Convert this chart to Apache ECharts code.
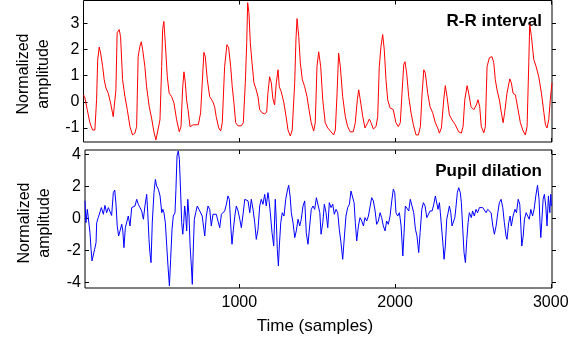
<!DOCTYPE html>
<html><head><meta charset="utf-8">
<script src="https://cdn.jsdelivr.net/npm/echarts@6/dist/echarts.min.js"></script>
<style>html,body{margin:0;padding:0;background:#fff}#c{width:581px;height:343px}</style>
</head><body><div id="c"></div>
<script>
const xTicks = [1000, 2000, 3000];
const rrTicks = [-1, 0, 1, 2, 3];
const pupilTicks = [-4, -2, 0, 2, 4];

const rrSamples = [0,9,24,41,58,73,84,91,101,110,123,133,144,159,174,191,195,208,216,229,238,251,266,281,298,315,330,341,351,362,371,380,394,405,422,437,452,465,476,491,502,508,516,525,538,550,566,581,598,615,626,637,645,653,662,671,684,705,737,752,760,773,782,795,810,831,842,852,868,881,891,906,921,932,945,955,966,977,992,1013,1026,1039,1048,1054,1062,1071,1082,1094,1109,1120,1131,1146,1163,1176,1184,1195,1206,1215,1227,1238,1249,1257,1270,1287,1302,1313,1328,1340,1356,1364,1371,1382,1392,1405,1420,1435,1448,1462,1478,1488,1499,1510,1523,1536,1552,1568,1589,1606,1617,1628,1638,1649,1664,1681,1696,1713,1732,1745,1758,1767,1777,1793,1807,1825,1835,1846,1861,1878,1889,1899,1910,1921,1931,1942,1953,1968,1989,2006,2021,2034,2045,2056,2064,2075,2088,2103,2118,2135,2150,2163,2174,2185,2195,2210,2225,2242,2259,2274,2285,2298,2313,2323,2334,2349,2366,2387,2409,2426,2437,2448,2463,2473,2488,2506,2522,2533,2544,2554,2570,2580,2591,2606,2623,2634,2644,2655,2670,2683,2694,2704,2719,2737,2747,2758,2773,2790,2805,2820,2837,2848,2859,2865,2876,2891,2906,2923,2940,2956,2966,2976,2987,2997,3008];
const rrValues = [0.27,0.15,-0.3,-0.8,-1.08,-1.08,0.08,1.6,2.1,1.87,1.35,0.85,0.53,0.33,-0.05,-0.57,-0.57,0.46,2.65,2.77,2.5,0.85,0.2,-0.3,-0.95,-1.27,-1.2,-0.95,1.74,2.13,2.3,2.0,1.35,0.58,-0.19,-0.62,-1.15,-1.46,-1.46,-0.69,1.35,2.77,3.08,2.27,0.96,0.33,0.2,-0.05,-0.69,-1.15,-0.95,0.58,1.15,0.77,0.08,-0.3,-0.95,-0.88,-0.88,-0.42,0.46,1.9,1.73,0.85,0.2,0,-0.19,-0.57,-1.0,-1.12,-0.8,1.35,2.19,2.07,1.35,0.58,-0.05,-0.8,-0.92,-0.92,-0.8,0.73,2.27,3.8,3.42,2.27,1.5,0.73,0.46,0.2,-0.3,-0.42,-0.46,-0.4,0.33,0.96,0.73,0.15,-0.12,0.73,1.23,0.58,0.38,-0.05,-0.62,-1.08,-1.31,-1.08,0.73,2.38,3.19,2.5,1.5,0.85,0.58,0.2,-0.3,-0.8,-1.12,-0.8,1.35,1.92,1.35,0.08,-0.8,-1.0,-1.15,-1.27,-1.08,0.33,1.87,1.35,0.2,-0.57,-0.95,-1.15,-1.15,-0.8,0.08,0.46,0.08,-0.57,-1.0,-0.8,-0.66,-0.8,-1.04,-0.95,-0.57,1.35,2.13,2.58,2.0,0.85,0.08,-0.23,-0.3,-0.8,-0.95,-0.8,0.33,1.42,1.54,1.1,0.2,-0.42,-0.88,-1.27,-1.27,-0.95,0.33,1.23,1.1,0.33,-0.19,-0.42,-0.8,-1.0,-1.2,-1.0,0.08,0.62,0.2,-0.5,-0.69,-0.88,-1.15,-1.2,-0.95,0.08,0.62,0.33,-0.19,-0.3,-0.12,0.08,-0.19,-0.95,-1.19,-0.95,1.35,1.69,1.73,1.5,0.85,0.46,0.08,-0.42,-0.8,-0.42,0.33,0.88,0.73,0.33,0.27,-0.3,-0.8,-1.08,-1.27,-0.95,1.5,2.96,2.5,1.62,1.35,0.96,0.33,-0.42,-0.88,-1.0,-0.69,0.08,0.73];

const pupilSamples = [9,15,24,35,41,48,54,62,71,80,84,94,105,114,120,127,137,148,159,170,180,191,200,208,216,225,234,245,252,259,268,277,287,298,309,319,330,341,351,362,373,384,394,405,412,420,426,433,441,452,461,469,480,491,502,509,516,525,534,542,551,559,568,576,587,593,600,608,615,624,630,637,643,649,656,662,669,677,684,692,698,705,711,720,730,741,752,762,767,778,788,799,810,820,831,841,852,863,874,885,895,906,917,927,936,945,953,962,971,981,992,1003,1013,1024,1035,1045,1056,1067,1077,1088,1099,1109,1120,1131,1141,1152,1163,1173,1184,1190,1199,1210,1221,1231,1238,1244,1251,1257,1266,1276,1287,1298,1308,1317,1326,1334,1345,1356,1366,1377,1388,1398,1409,1420,1430,1441,1452,1462,1473,1484,1495,1506,1517,1525,1536,1546,1557,1568,1578,1589,1600,1610,1621,1632,1642,1653,1664,1675,1685,1696,1707,1717,1728,1737,1745,1754,1765,1775,1786,1797,1807,1818,1829,1839,1850,1861,1872,1882,1893,1904,1914,1925,1936,1946,1957,1968,1979,1989,1998,2006,2017,2028,2039,2050,2058,2066,2077,2088,2098,2109,2120,2131,2141,2152,2161,2172,2182,2193,2204,2214,2225,2238,2249,2259,2268,2276,2285,2291,2298,2307,2315,2323,2332,2341,2349,2358,2366,2375,2384,2392,2400,2409,2419,2426,2435,2443,2452,2461,2469,2477,2490,2498,2509,2520,2530,2542,2552,2563,2574,2585,2595,2606,2617,2628,2638,2649,2660,2670,2681,2692,2702,2713,2719,2730,2739,2747,2758,2770,2780,2791,2801,2808,2814,2823,2831,2842,2852,2862,2872,2883,2893,2904,2915,2925,2931,2936,2942,2951,2959,2968,2976,2985,2994,3000,3004];
const pupilValues = [1.09,-0.28,0.56,0.46,-0.9,-1.94,-2.67,-2.57,-1.94,-1.52,-0.28,0.04,-0.06,0.67,0.56,0.25,0.81,0.35,0.67,0.77,0.18,1.61,1.77,0.89,-0.48,-1.11,-0.79,-0.38,-0.79,-1.84,-0.59,-0.69,0.14,-0.48,0.67,0.56,0.77,1.19,0.88,0.67,0.46,-0.06,0.77,1.5,0.35,-1.32,-2.15,-2.78,-0.28,1.61,2.44,2.03,1.82,1.4,0.35,0.56,0.35,-0.28,-1.74,-2.99,-4.24,-2.57,-0.69,0.14,0.35,1.82,3.91,4.22,3.7,1.4,-0.28,-1.0,-0.28,0.77,0.14,-0.79,1.19,0.14,-1.74,-2.99,-4.14,-1.74,-0.06,0.35,0.77,0.56,0.5,0.14,-0.28,-1.11,0.14,0.77,0.56,-0.48,0.25,0.14,0.25,-0.17,-0.59,0.25,0.35,0.46,0.88,1.4,1.19,-0.48,-1.63,-0.69,0.14,0.77,0.46,-0.06,-0.59,0.25,1.19,1.19,1.09,0.35,1.19,0.56,-0.28,-1.32,-0.69,0.77,1.19,0.88,1.5,0.77,1.61,1.19,0.35,-0.9,-1.74,1.19,-0.28,-1.94,-2.99,-1.74,-0.28,0.35,0.14,1.19,1.71,2.07,1.4,0.35,-0.28,-1.21,-0.79,-0.06,-0.48,-0.06,0.77,1.09,-0.9,-1.63,-0.48,0.56,0.77,0.56,1.29,1.4,0.35,-1.0,-0.28,0.88,0.35,-0.59,0.98,0.67,0.88,0.25,0.56,0.35,-0.69,-1.53,-2.57,-1.11,0.14,0.67,0.88,1.71,1.82,0.98,-0.28,-1.42,-0.48,0.04,-0.17,-0.48,0.04,-0.17,0.14,0.14,1.29,1.09,0.46,-0.38,-0.17,0.35,0.04,-0.48,-0.79,-0.17,-0.38,0.14,1.09,1.82,1.61,0.35,0.14,0.35,-0.48,-2.36,-0.9,0.77,0.88,0.46,1.19,0.77,0.35,-0.69,-1.11,-2.15,-0.9,0.56,0.98,0.77,0.04,0.14,0.46,0.46,0.88,1.4,1.29,0.56,0.98,0.35,-0.48,-1.53,-2.57,-1.74,-0.06,0.35,0.77,0.35,-0.48,-0.59,0.04,0.77,1.61,1.92,1.61,0.98,-0.69,-2.15,-2.78,-1.32,-0.28,0.35,0.04,0.46,0.14,0.56,0.35,0.67,0.56,0.67,0.77,0.35,0.56,0.67,0.35,-0.48,-1.0,-0.48,0.35,0.98,1.19,0.67,-0.28,-1.11,-1.32,-0.28,0.14,-0.48,0.14,0.56,0.35,1.19,0.88,-0.48,-1.74,-1.11,-0.06,0.35,0.14,-0.06,0.56,0.14,0.56,1.4,2.07,1.19,-0.28,-1.21,-0.28,1.19,1.5,0.77,-0.48,1.4,0.35,1.5,0.77];

const zip = (a, b) => a.map((x, i) => [x, b[i]]);
const FONT = '"Liberation Sans", Arial, sans-serif';
const BLACK = '#000';

function xAx(gi, pos, labels, min) {
  return {
    type: 'value', gridIndex: gi, position: pos, min: min, max: 3008,
    axisLine: { show: false, onZero: false }, splitLine: { show: false },
    axisTick: { show: true, inside: true, length: 4, lineStyle: { color: BLACK, width: 1 }, customValues: xTicks },
    axisLabel: { show: labels, customValues: xTicks, formatter: v => String(v), color: BLACK, fontSize: 16, fontFamily: FONT, margin: 7 }
  };
}
function yAx(gi, pos, min, max, ticks, labels) {
  return {
    type: 'value', gridIndex: gi, position: pos, min: min, max: max,
    axisLine: { show: false, onZero: false }, splitLine: { show: false },
    axisTick: { show: true, inside: pos === 'left', length: 4, lineStyle: { color: BLACK, width: 1 }, customValues: ticks },
    axisLabel: { show: labels, customValues: ticks, formatter: v => String(v), color: BLACK, fontSize: 16, fontFamily: FONT, margin: 4 }
  };
}

const chart = echarts.init(document.getElementById('c'), null, { renderer: 'canvas' });
chart.setOption({
  animation: false,
  backgroundColor: '#fff',
  grid: [
    { left: 83.5, top: 0.5, width: 468.5, height: 141.5, show: true, borderColor: BLACK, borderWidth: 1, backgroundColor: 'transparent' },
    { left: 85, top: 150, width: 467, height: 138, show: true, borderColor: BLACK, borderWidth: 1, backgroundColor: 'transparent' }
  ],
  xAxis: [
    xAx(0, 'bottom', false, 0),
    xAx(0, 'top', false, 0),
    xAx(1, 'bottom', true, 9),
    xAx(1, 'top', false, 9)
  ],
  yAxis: [
    yAx(0, 'left', -1.54, 3.885, rrTicks, true),
    yAx(0, 'right', -1.54, 3.885, rrTicks, false),
    yAx(1, 'left', -4.37, 4.28, pupilTicks, true),
    yAx(1, 'right', -4.37, 4.28, pupilTicks, false)
  ],
  series: [
    { type: 'line', xAxisIndex: 0, yAxisIndex: 0, data: zip(rrSamples, rrValues), showSymbol: false, lineStyle: { color: '#ff0000', width: 1 }, itemStyle: { color: '#ff0000' } },
    { type: 'line', xAxisIndex: 2, yAxisIndex: 2, data: zip(pupilSamples, pupilValues), showSymbol: false, lineStyle: { color: '#0000ff', width: 1 }, itemStyle: { color: '#0000ff' } }
  ],
  graphic: [
    { type: 'text', x: 33.5, y: 74, rotation: Math.PI / 2, style: { text: 'Normalized\namplitude', font: '16px ' + FONT, fill: BLACK, align: 'center', verticalAlign: 'middle', lineHeight: 20 } },
    { type: 'text', x: 35, y: 223, rotation: Math.PI / 2, style: { text: 'Normalized\namplitude', font: '16px ' + FONT, fill: BLACK, align: 'center', verticalAlign: 'middle', lineHeight: 20 } },
    { type: 'text', x: 315, y: 326, style: { text: 'Time (samples)', font: '17px ' + FONT, fill: BLACK, align: 'center', verticalAlign: 'middle' } },
    { type: 'text', x: 542, y: 21, style: { text: 'R-R interval', font: 'bold 17px ' + FONT, fill: BLACK, align: 'right', verticalAlign: 'middle' } },
    { type: 'text', x: 542, y: 171, style: { text: 'Pupil dilation', font: 'bold 17px ' + FONT, fill: BLACK, align: 'right', verticalAlign: 'middle' } }
  ]
});
</script>
</body></html>
